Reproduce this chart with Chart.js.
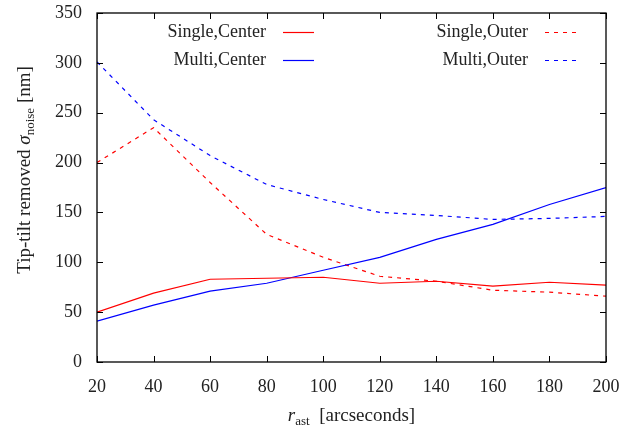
<!DOCTYPE html>
<html>
<head>
<meta charset="utf-8">
<script src="https://cdn.jsdelivr.net/npm/chart.js@4.4.1/dist/chart.umd.min.js"></script>
<style>
  html, body { margin: 0; padding: 0; background: #fff; }
  #wrap { width: 622px; height: 434px; }
</style>
</head>
<body>
<div id="wrap"><canvas id="noiseChart" width="622" height="434"></canvas></div>
<script>
// asterism radius (arcseconds)
const radii = [20, 40, 60, 80, 100, 120, 140, 160, 180, 200];

// tip-tilt removed noise (nm)
const singleCenter = [50, 69, 83, 84, 85, 79, 81, 76, 80, 77];
const multiCenter  = [41, 57, 71, 79, 92, 105, 123, 138, 158, 175];
const singleOuter  = [200, 235, 180, 128, 105, 86, 81, 72, 70, 66];
const multiOuter   = [301, 243, 207, 178, 163, 150, 147, 143, 144, 146];

const yTicks = [0, 50, 100, 150, 200, 250, 300, 350];

const SERIF = '"Liberation Serif", "DejaVu Serif", serif';
const TEXT = '#222';

function toPoints(values) {
    return radii.map((r, i) => ({ x: r, y: values[i] }));
}

function series(label, values, color, dashed, column, row) {
    return {
        label: label,
        data: toPoints(values),
        borderColor: color,
        borderWidth: 1.2,
        borderDash: dashed ? [4, 5] : [],
        pointRadius: 0,
        fill: false,
        tension: 0,
        legendCol: column,
        legendRow: row
    };
}

// frame with inward ticks on all four sides, plus the inside legend and axis titles
const framePlugin = {
    id: 'frame',
    afterDraw(chart) {
        const ctx = chart.ctx;
        const { left, right, top, bottom } = chart.chartArea;
        const xs = chart.scales.x, ys = chart.scales.y;
        const tick = 6;

        ctx.save();
        ctx.strokeStyle = '#000';
        ctx.lineWidth = 1.3;
        ctx.setLineDash([]);
        ctx.strokeRect(left, top, right - left, bottom - top);

        ctx.lineWidth = 1;
        ctx.beginPath();
        radii.forEach(v => {
            const px = Math.round(xs.getPixelForValue(v)) + 0.5;
            ctx.moveTo(px, bottom); ctx.lineTo(px, bottom - tick);
            ctx.moveTo(px, top); ctx.lineTo(px, top + tick);
        });
        yTicks.forEach(v => {
            const py = Math.round(ys.getPixelForValue(v)) + 0.5;
            ctx.moveTo(left, py); ctx.lineTo(left + tick, py);
            ctx.moveTo(right, py); ctx.lineTo(right - tick, py);
        });
        ctx.stroke();

        // legend: text right-aligned, sample line to its right
        const colText = [left + 169, left + 431];
        const rowY = [top + 19, top + 47];
        ctx.font = '18px ' + SERIF;
        ctx.textAlign = 'right';
        ctx.textBaseline = 'middle';
        chart.data.datasets.forEach(ds => {
            const tx = colText[ds.legendCol];
            const ty = rowY[ds.legendRow];
            ctx.fillStyle = TEXT;
            ctx.fillText(ds.label, tx, ty);
            ctx.strokeStyle = ds.borderColor;
            ctx.lineWidth = 1.2;
            ctx.setLineDash(ds.borderDash);
            ctx.beginPath();
            ctx.moveTo(tx + 17, ty + 0.5);
            ctx.lineTo(tx + 48, ty + 0.5);
            ctx.stroke();
        });
        ctx.setLineDash([]);

        // x title: r_ast [arcseconds]
        drawTitle(ctx, [
            { t: 'r', font: 'italic 19px ' + SERIF, dy: 0 },
            { t: 'ast', font: '13px ' + SERIF, dy: 4 },
            { t: '  [arcseconds]', font: '19px ' + SERIF, dy: 0 }
        ], (left + right) / 2, 421, 0);

        // y title: Tip-tilt removed sigma_noise [nm]
        drawTitle(ctx, [
            { t: 'Tip-tilt removed ', font: '19px ' + SERIF, dy: 0 },
            { t: 'σ', font: 'italic 19px ' + SERIF, dy: 0 },
            { t: 'noise', font: '13px ' + SERIF, dy: 4 },
            { t: ' [nm]', font: '19px ' + SERIF, dy: 0 }
        ], 30, 170, -Math.PI / 2);

        ctx.restore();
    }
};

function drawTitle(ctx, parts, cx, baseY, angle) {
    ctx.save();
    ctx.translate(cx, baseY);
    ctx.rotate(angle);
    ctx.fillStyle = TEXT;
    ctx.textAlign = 'left';
    ctx.textBaseline = 'alphabetic';
    let total = 0;
    parts.forEach(p => { ctx.font = p.font; total += ctx.measureText(p.t).width; });
    let x = -total / 2;
    parts.forEach(p => {
        ctx.font = p.font;
        ctx.fillText(p.t, x, p.dy);
        x += ctx.measureText(p.t).width;
    });
    ctx.restore();
}

const ctx = document.getElementById('noiseChart').getContext('2d');
const chart = new Chart(ctx, {
    type: 'line',
    data: {
        datasets: [
            series('Single,Center', singleCenter, '#ff0000', false, 0, 0),
            series('Multi,Center', multiCenter, '#0000ff', false, 0, 1),
            series('Single,Outer', singleOuter, '#ff0000', true, 1, 0),
            series('Multi,Outer', multiOuter, '#0000ff', true, 1, 1)
        ]
    },
    options: {
        responsive: false,
        animation: false,
        devicePixelRatio: 1,
        layout: { padding: { left: 0, top: 13, right: 16, bottom: 0 } },
        scales: {
            x: {
                type: 'linear',
                min: 20,
                max: 200,
                grid: { display: false, drawTicks: false },
                border: { display: false },
                ticks: {
                    stepSize: 20,
                    padding: 14,
                    color: TEXT,
                    font: { family: SERIF, size: 18 },
                    maxRotation: 0
                },
                afterFit(scale) {
                    scale.height = 72;
                    scale.paddingLeft = 0;
                    scale.paddingRight = 0;
                }
            },
            y: {
                min: 0,
                max: 350,
                grid: { display: false, drawTicks: false },
                border: { display: false },
                ticks: {
                    stepSize: 50,
                    padding: 15,
                    color: TEXT,
                    font: { family: SERIF, size: 18 }
                },
                afterFit(scale) {
                    scale.width = 97;
                    scale.paddingTop = 0;
                    scale.paddingBottom = 0;
                }
            }
        },
        plugins: {
            legend: { display: false },
            tooltip: { enabled: false }
        }
    },
    plugins: [framePlugin]
});
</script>
</body>
</html>
